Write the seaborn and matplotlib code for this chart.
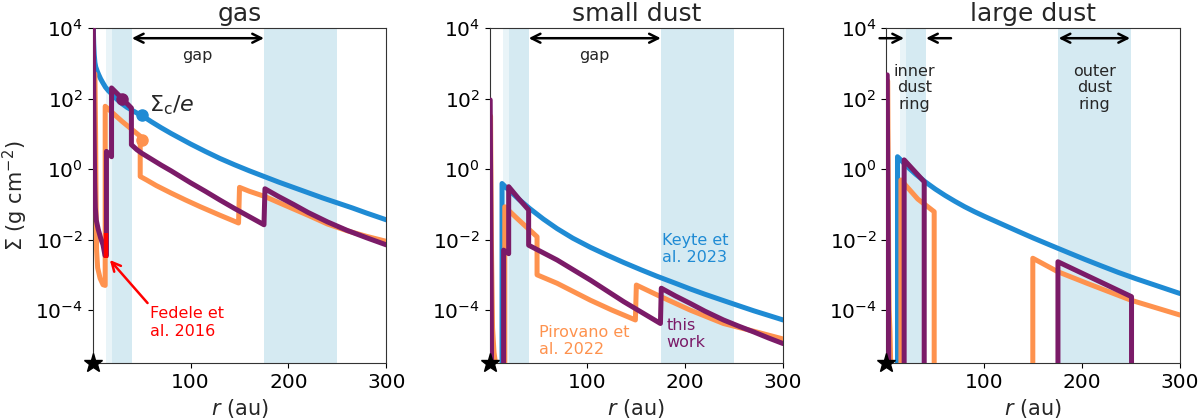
import numpy as np
import matplotlib.pyplot as plt
import seaborn as sns

sns.set_style('ticks', {'axes.edgecolor': '0.2'})
plt.rcParams['font.family'] = ['DejaVu Sans']
plt.rcParams['mathtext.fontset'] = 'dejavusans'

# colours of the three models
c_keyte = '#1f8bd4'
c_piro = '#fe924e'
c_this = '#7b1b68'
band_light = '#e9f4f8'
band_dark = '#d5eaf2'

# radius (au) and log10 Sigma (g cm^-2), -7 = below the axis
# --- gas
gas_keyte_r = [0.4, 0.7, 1.0, 1.5, 2.2, 3.0, 4.5, 6, 8, 10, 13, 16, 20, 25, 30, 35, 40, 45, 50,
               60, 70, 80, 90, 100, 115, 130, 145, 160, 175, 190, 205, 220, 235, 250, 265, 280, 300]
gas_keyte_s = [4.3, 3.85, 3.55, 3.25, 3.02, 2.9, 2.78, 2.68, 2.56, 2.46, 2.32, 2.22, 2.11, 1.97,
               1.85, 1.75, 1.67, 1.59, 1.52, 1.34, 1.17, 1.01, 0.86, 0.71, 0.5, 0.3, 0.12, -0.05,
               -0.21, -0.37, -0.52, -0.67, -0.82, -0.96, -1.1, -1.25, -1.44]
gas_piro_r = [2.2, 2.9, 3.4, 3.9, 5.0, 7.5, 10.5, 12.7, 12.7, 30, 48.5, 48.5, 55, 65, 80, 95, 110,
              130, 149, 150, 160, 176, 190, 205, 220, 240, 260, 280, 300]
gas_piro_s = [2.7, 1.0, -1.0, -2.3, -2.8, -3.1, -3.28, -3.3, 1.78, 1.35, 0.93, -0.21, -0.31,
              -0.47, -0.68, -0.88, -1.07, -1.31, -1.53, -0.52, -0.63, -0.78, -0.95, -1.13, -1.31,
              -1.56, -1.75, -1.91, -2.05]
gas_this_r = [0.5, 0.9, 1.4, 2.0, 2.6, 3.6, 5.5, 8, 10.5, 12.5, 14.0, 14.0, 19.2, 19.2, 30, 39.5,
              39.5, 45, 50, 60, 70, 80, 90, 100, 115, 130, 145, 160, 175, 176, 190, 205, 220, 240,
              260, 280, 300]
gas_this_s = [4.3, 2.6, 1.0, -0.4, -1.1, -1.45, -1.7, -1.95, -2.15, -2.45, -2.45, 0.5, 0.35, 2.3,
              2.0, 1.73, 0.69, 0.55, 0.45, 0.28, 0.11, -0.05, -0.22, -0.39, -0.63, -0.88, -1.12,
              -1.35, -1.58, -0.56, -0.78, -1.0, -1.23, -1.5, -1.74, -1.95, -2.15]
fedele_r = [13.1, 13.1]
fedele_s = [-1.82, -2.53]
# Sigma_c/e markers (r_c, value)
dots_r = {'keyte': 50, 'piro': 50, 'this': 30}
dots_s = {'keyte': 1.52, 'piro': 0.82, 'this': 2.0}

# --- small dust
sd_keyte_r = [12.7, 12.7, 16, 20.6, 30, 41, 55, 69, 85, 103, 120, 137, 155, 171, 190, 205, 220,
              239, 255, 270, 285, 300]
sd_keyte_s = [-7, -0.41, -0.5, -0.62, -0.86, -1.12, -1.42, -1.69, -1.96, -2.22, -2.44, -2.65,
              -2.86, -3.04, -3.24, -3.4, -3.55, -3.73, -3.88, -4.02, -4.15, -4.28]
sd_piro_r = [1.0, 1.8, 3.0, 4.5, 6.5, 7.0, 15.5, 15.5, 30, 48.5, 48.5, 69, 103, 125, 149, 150, 175,
             205, 239, 270, 300]
sd_piro_s = [1.5, -2.0, -4.5, -5.2, -5.6, -7, -7, -1.07, -1.45, -1.92, -3.0, -3.24, -3.72, -4.0,
             -4.28, -3.29, -3.62, -4.0, -4.38, -4.6, -4.82]
sd_this_r = [0.6, 1.0, 1.6, 2.2, 14.3, 14.3, 19.5, 19.5, 30, 39.9, 39.9, 69, 103, 137, 174.6,
             175.5, 190, 205, 220, 239, 255, 270, 285, 300]
sd_this_s = [1.96, 0.0, -3.0, -7, -7, -2.3, -2.4, -0.5, -0.85, -1.16, -2.16, -2.58, -3.15, -3.76,
             -4.38, -3.38, -3.6, -3.81, -4.03, -4.28, -4.46, -4.62, -4.79, -4.95]

# --- large dust
ld_keyte_r = [11.3, 11.3, 18.1, 22, 26, 30, 35, 40, 50, 60, 70, 80, 90, 100, 117, 134, 150, 168.5,
              185, 202.6, 220, 236.8, 255, 270, 285, 300]
ld_keyte_s = [-7, 0.35, 0.16, 0.05, -0.05, -0.15, -0.26, -0.37, -0.57, -0.75, -0.915, -1.07,
              -1.21, -1.34, -1.55, -1.76, -1.955, -2.17, -2.36, -2.56, -2.75, -2.93, -3.11, -3.25,
              -3.39, -3.53]
ld_piro_r = [1.3, 1.8, 2.4, 2.8, 3.6, 4.4, 4.5, 14.8, 14.8, 32, 48.8, 48.8, 149.6, 149.6, 175,
             205, 250, 275, 300]
ld_piro_s = [2.5, 0.0, -3.0, -4.0, -4.6, -5.6, -7, -7, -0.31, -0.85, -1.21, -7, -7, -2.53, -2.91,
             -3.24, -3.72, -3.93, -4.14]
ld_this_r = [0.8, 1.3, 2.0, 2.5, 18.1, 18.1, 38.6, 38.6, 175.3, 175.3, 250.5, 250.5]
ld_this_s = [2.67, 0.0, -3.0, -7, -7, 0.26, -0.36, -7, -7, -2.63, -3.62, -7]

titles = ['gas', 'small dust', 'large dust']
series = [
    [(gas_keyte_r, gas_keyte_s), (gas_piro_r, gas_piro_s), (gas_this_r, gas_this_s)],
    [(sd_keyte_r, sd_keyte_s), (sd_piro_r, sd_piro_s), (sd_this_r, sd_this_s)],
    [(ld_keyte_r, ld_keyte_s), (ld_piro_r, ld_piro_s), (ld_this_r, ld_this_s)],
]
colours = [c_keyte, c_piro, c_this]

ymin, ymax = 10 ** -5.5, 1e4
fs_tick, fs_lab, fs_note = 14.5, 15, 11.5

fig, axes = plt.subplots(1, 3, figsize=(12, 4.19), dpi=100)
fig.subplots_adjust(left=0.0773, right=0.9833, top=0.9332, bottom=0.1337, wspace=0.352)

for ax, title, curves in zip(axes, titles, series):
    ax.set_yscale('log')
    ax.axvspan(14, 19.5, color=band_light, lw=0, zorder=0)
    ax.axvspan(19.5, 40, color=band_dark, lw=0, zorder=0)
    ax.axvspan(175, 250, color=band_dark, lw=0, zorder=0)
    for z, ((r, s), col) in enumerate(zip(curves, colours)):
        sns.lineplot(x=r, y=10.0 ** np.array(s), ax=ax, color=col, lw=3.6,
                     sort=False, estimator=None, zorder=2 + z)
    ax.plot([0], [ymin], marker='*', color='k', ms=14, clip_on=False, zorder=10)
    ax.set_xlim(0, 300)
    ax.set_ylim(ymin, ymax)
    ax.set_xticks([100, 200, 300])
    ax.set_yticks([1e-4, 1e-2, 1e0, 1e2, 1e4])
    ax.minorticks_off()
    ax.tick_params(labelsize=fs_tick, colors='k')
    ax.set_xlabel(r'$r$ (au)', fontsize=fs_lab)
    ax.set_ylabel('')
    ax.set_title(title, fontsize=18, pad=5)

ax = axes[0]
ax.set_ylabel(r'$\Sigma$ (g cm$^{-2}$)', fontsize=fs_lab)
for key, col in zip(['keyte', 'piro', 'this'], colours):
    ax.plot([dots_r[key]], [10 ** dots_s[key]], 'o', color=col, ms=8, zorder=6)
sns.lineplot(x=fedele_r, y=10.0 ** np.array(fedele_s), ax=ax, color='red', lw=3.2,
             sort=False, estimator=None, zorder=7, solid_capstyle='butt')
ax.annotate('', xy=(17.5, 10 ** -2.58), xytext=(56, 10 ** -3.8),
            arrowprops=dict(arrowstyle='->', color='red', lw=1.8, shrinkA=0, shrinkB=0,
                            mutation_scale=16), zorder=8)
ax.text(59, 10 ** -4.35, 'Fedele et\nal. 2016', color='red', fontsize=fs_note,
        ha='left', va='center')
ax.text(57, 10 ** 1.8, r'$\Sigma_\mathrm{c}/e$', fontsize=16, ha='left', va='center')

# gap arrows
for ax in axes[:2]:
    ax.annotate('', xy=(40, 10 ** 3.71), xytext=(175, 10 ** 3.71),
                arrowprops=dict(arrowstyle='<->', color='k', lw=1.8, shrinkA=0, shrinkB=0,
                                mutation_scale=16))
    ax.text(107, 10 ** 3.23, 'gap', fontsize=fs_note, ha='center', va='center')

ax = axes[1]
ax.text(176, 10 ** -2.27, 'Keyte et\nal. 2023', color=c_keyte, fontsize=fs_note,
        ha='left', va='center')
ax.text(50.8, 10 ** -4.88, 'Pirovano et\nal. 2022', color=c_piro, fontsize=fs_note,
        ha='left', va='center')
ax.text(180.6, 10 ** -4.68, 'this\nwork', color=c_this, fontsize=fs_note,
        ha='left', va='center')

ax = axes[2]
arrow_kw = dict(color='k', lw=1.8, shrinkA=0, shrinkB=0, mutation_scale=16)
ax.annotate('', xy=(18, 10 ** 3.71), xytext=(-7, 10 ** 3.71), annotation_clip=False,
            arrowprops=dict(arrowstyle='->', **arrow_kw))
ax.annotate('', xy=(40.5, 10 ** 3.71), xytext=(66, 10 ** 3.71),
            arrowprops=dict(arrowstyle='->', **arrow_kw))
ax.annotate('', xy=(176, 10 ** 3.71), xytext=(249, 10 ** 3.71),
            arrowprops=dict(arrowstyle='<->', **arrow_kw))
ax.text(28.4, 10 ** 2.3, 'inner\ndust\nring', fontsize=fs_note, ha='center', va='center',
        linespacing=1.15)
ax.text(212.5, 10 ** 2.3, 'outer\ndust\nring', fontsize=fs_note, ha='center', va='center',
        linespacing=1.15)

fig.savefig('out.png', dpi=100)
